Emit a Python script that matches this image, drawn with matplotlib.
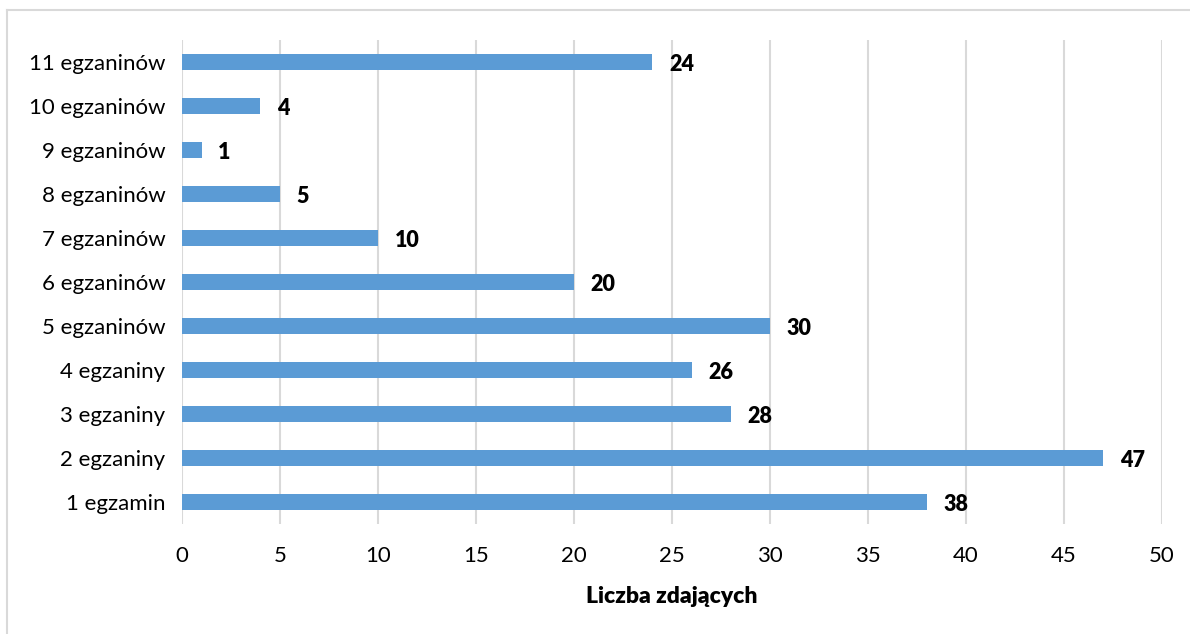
import matplotlib
matplotlib.use("Agg")
import matplotlib.pyplot as plt
from matplotlib.lines import Line2D

categories = ["1 egzamin", "2 egzaniny", "3 egzaniny", "4 egzaniny", "5 egzaninów",
              "6 egzaninów", "7 egzaninów", "8 egzaninów", "9 egzaninów",
              "10 egzaninów", "11 egzaninów"]
values = [38, 47, 28, 26, 30, 20, 10, 5, 1, 4, 24]
x_ticks = [0, 5, 10, 15, 20, 25, 30, 35, 40, 45, 50]
xlabel = "Liczba zdających"

plt.rcParams['font.family'] = ['Lato', 'DejaVu Sans']

fig = plt.figure(figsize=(11.9, 6.34), dpi=100)
ax = fig.add_axes([182/1190, 1-524/634, 980/1190, 484/634])

bar_color = "#5B9BD5"
ypos = list(range(len(categories)))
ax.barh(ypos, values, height=0.36, color=bar_color, zorder=3)
for y, v in zip(ypos, values):
    ax.text(v + 0.85, y - 0.05, str(v), va='center', ha='left', fontsize=15.5,
            fontweight='heavy', color='black', zorder=4)

ax.set_xlim(0, 50)
ax.set_ylim(-0.5, len(categories) - 0.5)
ax.set_xticks(x_ticks)
ax.set_xticklabels([str(t) for t in x_ticks])
ax.set_yticks(ypos)
ax.set_yticklabels(categories)
ax.tick_params(axis='both', length=0, labelsize=16, colors='black')
ax.tick_params(axis='x', pad=16)
ax.tick_params(axis='y', pad=12)
ax.grid(axis='x', color='#D9D9D9', linewidth=1.5, zorder=0)
for s in ax.spines.values():
    s.set_visible(False)
ax.set_xlabel(xlabel, fontsize=16.5, fontweight='heavy', labelpad=14)

# outer chart border (left and top visible)
fig.add_artist(Line2D([7/1190, 7/1190], [0, 1-10/634], transform=fig.transFigure,
                      color='#D9D9D9', linewidth=1.5))
fig.add_artist(Line2D([7/1190, 1], [1-10/634, 1-10/634], transform=fig.transFigure,
                      color='#D9D9D9', linewidth=1.5))

fig.savefig("out.png", dpi=100)
